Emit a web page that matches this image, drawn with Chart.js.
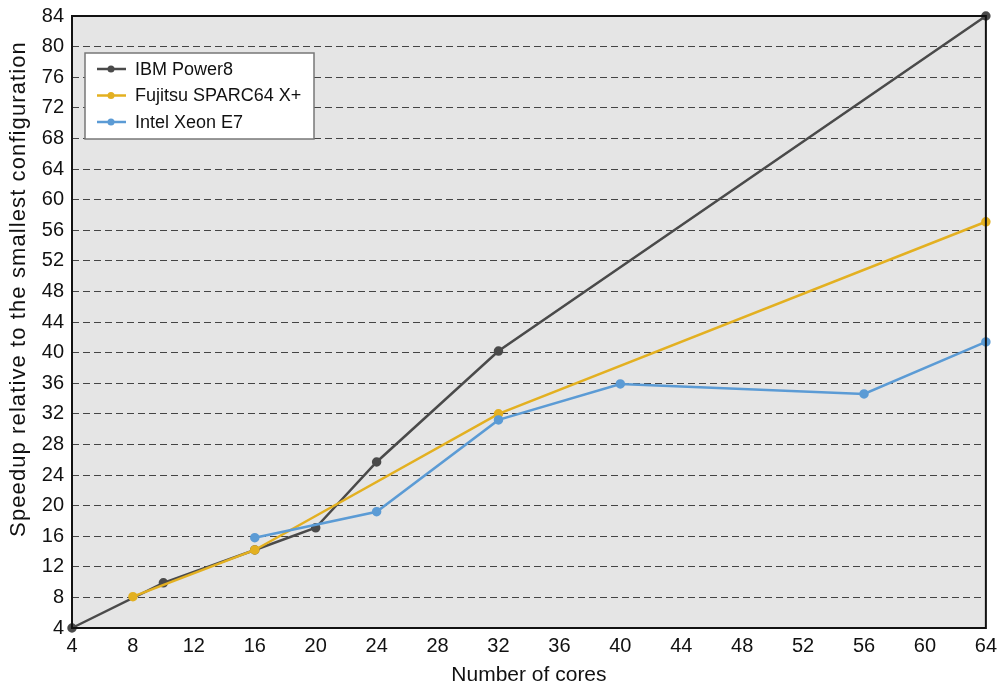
<!DOCTYPE html>
<html>
<head>
<meta charset="utf-8">
<script src="https://cdn.jsdelivr.net/npm/chart.js@4/dist/chart.umd.min.js"></script>
<style>
  html, body { margin: 0; padding: 0; background: #fff; }
  #wrap { width: 1003px; height: 686px; }
</style>
</head>
<body>
<div id="wrap"><canvas id="speedChart"></canvas></div>
<script>
// data block
const ibmCores = [4, 10, 16, 20, 24, 32, 64];
const ibmSpeedup = [4, 9.9, 14.2, 17.1, 25.7, 40.2, 84];
const fujitsuCores = [8, 16, 32, 64];
const fujitsuSpeedup = [8.1, 14.2, 32, 57.1];
const intelCores = [16, 24, 32, 40, 56, 64];
const intelSpeedup = [15.8, 19.2, 31.2, 35.9, 34.6, 41.4];
const seriesNames = ['IBM Power8', 'Fujitsu SPARC64 X+', 'Intel Xeon E7'];
const yTitle = 'Speedup relative to the smallest configuration';

const toPoints = (xs, ys) => xs.map((x, i) => ({ x: x, y: ys[i] }));
const fontFamily = '"Liberation Sans", Arial, sans-serif';

// plot background, frame, y title and legend box
const framePlugin = {
	id: 'frame',
	beforeDraw(chart) {
		const { ctx, chartArea: a } = chart;
		ctx.save();
		ctx.fillStyle = '#e5e5e5';
		ctx.fillRect(a.left, a.top, a.right - a.left, a.bottom - a.top);
		ctx.restore();
	},
	afterDatasetsDraw(chart) {
		const { ctx, chartArea: a } = chart;
		ctx.save();
		ctx.strokeStyle = '#111';
		ctx.lineWidth = 2;
		ctx.strokeRect(a.left, a.top, a.right - a.left, a.bottom - a.top);
		ctx.restore();
	},
	afterDraw(chart) {
		const { ctx, chartArea: a } = chart;
		ctx.save();
		// y axis title, a bit spread out like the original
		ctx.translate(19, 289);
		ctx.rotate(-Math.PI / 2);
		ctx.font = '22px ' + fontFamily;
		ctx.letterSpacing = '1.1px';
		ctx.fillStyle = '#111';
		ctx.textAlign = 'center';
		ctx.textBaseline = 'middle';
		ctx.fillText(yTitle, 0, 0);
		ctx.restore();

		const x0 = a.left + 13, y0 = a.top + 37, w = 229, h = 86;
		ctx.save();
		ctx.fillStyle = '#fff';
		ctx.fillRect(x0, y0, w, h);
		ctx.strokeStyle = '#777';
		ctx.lineWidth = 1.5;
		ctx.strokeRect(x0, y0, w, h);
		ctx.font = '18px ' + fontFamily;
		ctx.textBaseline = 'middle';
		chart.data.datasets.forEach((ds, i) => {
			const cy = y0 + 16 + i * 26.5;
			ctx.strokeStyle = ds.borderColor;
			ctx.lineWidth = 2.5;
			ctx.beginPath();
			ctx.moveTo(x0 + 12, cy);
			ctx.lineTo(x0 + 41, cy);
			ctx.stroke();
			ctx.fillStyle = ds.borderColor;
			ctx.beginPath();
			ctx.arc(x0 + 26, cy, 3.5, 0, Math.PI * 2);
			ctx.fill();
			ctx.fillStyle = '#111';
			ctx.fillText(ds.label, x0 + 50, cy + 1);
		});
		ctx.restore();
	},
};

const seriesStyle = (color, order) => ({
	borderColor: color,
	backgroundColor: color,
	borderWidth: 2.5,
	pointRadius: 3.5,
	pointHoverRadius: 3.5,
	tension: 0,
	clip: false,
	order: order,
});

const data = {
	datasets: [
		{ label: seriesNames[0], data: toPoints(ibmCores, ibmSpeedup), ...seriesStyle('#4a4a4a', 3) },
		{ label: seriesNames[1], data: toPoints(fujitsuCores, fujitsuSpeedup), ...seriesStyle('#e3b021', 2) },
		{ label: seriesNames[2], data: toPoints(intelCores, intelSpeedup), ...seriesStyle('#5b9bd5', 1) },
	],
};

const tickFont = { family: fontFamily, size: 20 };

const config = {
	type: 'line',
	data: data,
	plugins: [framePlugin],
	options: {
		responsive: false,
		animation: false,
		layout: { padding: { top: 16, right: 16, bottom: 0, left: 0 } },
		plugins: {
			legend: { display: false },
			tooltip: { enabled: false },
		},
		scales: {
			x: {
				type: 'linear',
				min: 4,
				max: 64,
				afterFit: (scale) => { scale.height = 58; },
				ticks: { stepSize: 4, color: '#111', font: tickFont, padding: 6, maxRotation: 0 },
				grid: { display: false, drawTicks: false },
				border: { display: false },
				title: { display: true, text: 'Number of cores', color: '#111', font: { family: fontFamily, size: 21, lineHeight: 1.0 }, padding: { top: 0, bottom: 0 } },
			},
			y: {
				min: 4,
				max: 84,
				afterFit: (scale) => {
					scale.width = 72;
					scale.paddingTop = 0;
					scale.paddingBottom = 0;
				},
				ticks: { stepSize: 4, color: '#111', font: tickFont, padding: 8 },
				grid: { color: '#444', lineWidth: 1, drawTicks: false },
				border: { display: false, dash: [7, 4] },
			},
		},
	},
};

const canvas = document.getElementById('speedChart');
canvas.width = 1003;
canvas.height = 686;
const speedChart = new Chart(canvas, config);
</script>
</body>
</html>
